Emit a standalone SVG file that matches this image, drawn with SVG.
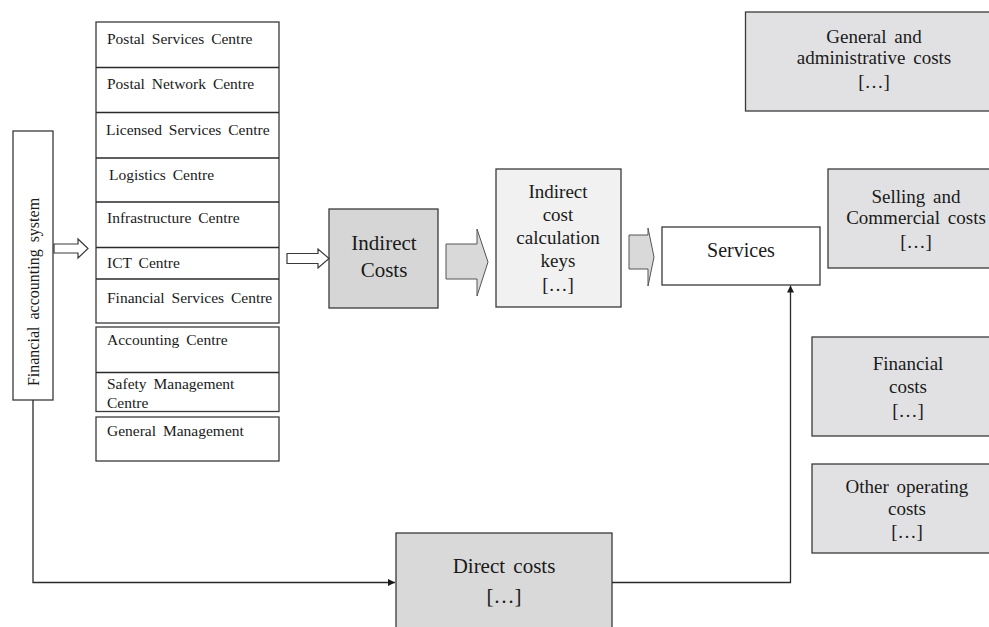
<svg xmlns="http://www.w3.org/2000/svg" width="989" height="627" viewBox="0 0 989 627">
<defs>
<style>
text{font-family:"Liberation Serif","DejaVu Serif",serif;fill:#1a1a1a;word-spacing:3px}
.b{stroke:#3a3a3a;stroke-width:1.3;fill:#fff}
.g{stroke:#3a3a3a;stroke-width:1.3;fill:#e1e1e3}
.s{font-size:15.5px}
.m{font-size:19px;text-anchor:middle}
.l{font-size:21px;text-anchor:middle}
.ln{stroke:#2a2a2a;stroke-width:1.3;fill:none}
.ha{fill:#fff;stroke:#3a3a3a;stroke-width:1.2}
.fa{fill:#d9d9d9;stroke:#555;stroke-width:1}
</style>
<marker id="ah" viewBox="0 0 10 10" refX="10" refY="5" markerWidth="7" markerHeight="7" orient="auto" markerUnits="userSpaceOnUse">
<path d="M0,0 L10,5 L0,10 z" fill="#1a1a1a"/>
</marker>
</defs>
<rect width="989" height="627" fill="#fff"/>

<g id="fas">
<rect class="b" x="13" y="131" width="40" height="269"/>
<text class="s" transform="translate(38.5,292) rotate(-90)" text-anchor="middle" style="font-size:16px">Financial accounting system</text>
</g>

<g id="centres">
<rect class="b" x="96" y="22" width="183" height="301"/>
<line class="ln" x1="96" y1="67.5" x2="279" y2="67.5"/>
<line class="ln" x1="96" y1="112.5" x2="279" y2="112.5"/>
<line class="ln" x1="96" y1="158" x2="279" y2="158"/>
<line class="ln" x1="96" y1="202" x2="279" y2="202"/>
<line class="ln" x1="96" y1="247.5" x2="279" y2="247.5"/>
<line class="ln" x1="96" y1="279" x2="279" y2="279"/>
<text class="s" x="107" y="44">Postal Services Centre</text>
<text class="s" x="107" y="89">Postal Network Centre</text>
<text class="s" x="106" y="135">Licensed Services Centre</text>
<text class="s" x="109" y="180">Logistics Centre</text>
<text class="s" x="107" y="223">Infrastructure Centre</text>
<text class="s" x="107" y="268">ICT Centre</text>
<text class="s" x="107" y="303">Financial Services Centre</text>
<rect class="b" x="96" y="327" width="183" height="84.5"/>
<line class="ln" x1="96" y1="372.5" x2="279" y2="372.5"/>
<text class="s" x="107" y="345">Accounting Centre</text>
<text class="s" x="107" y="389">Safety Management</text>
<text class="s" x="107" y="408">Centre</text>
<rect class="b" x="96" y="417" width="183" height="44"/>
<text class="s" x="107" y="436">General Management</text>
</g>

<g id="indirect-costs">
<rect class="g" x="329" y="209" width="109" height="99" style="fill:#d6d6d6"/>
<text class="l" x="384" y="250">Indirect</text>
<text class="l" x="384" y="277">Costs</text>
</g>

<g id="calc-keys">
<rect class="g" x="496" y="169" width="125" height="138" style="fill:#f0f1f0"/>
<text class="m" x="558" y="198">Indirect</text>
<text class="m" x="558" y="221">cost</text>
<text class="m" x="558" y="244">calculation</text>
<text class="m" x="558" y="267">keys</text>
<text class="m" x="558" y="291">[…]</text>
</g>

<g id="services">
<rect class="b" x="662" y="227" width="158" height="58"/>
<text class="m" x="741" y="257" style="font-size:20px">Services</text>
</g>

<g id="ga-costs">
<rect class="g" x="745.5" y="12" width="250" height="99"/>
<text class="m" x="874" y="43">General and</text>
<text class="m" x="874" y="64">administrative costs</text>
<text class="m" x="874" y="88">[…]</text>
</g>

<g id="selling-costs">
<rect class="g" x="828" y="169" width="170" height="99"/>
<text class="m" x="916" y="203">Selling and</text>
<text class="m" x="916" y="224">Commercial costs</text>
<text class="m" x="916" y="248">[…]</text>
</g>

<g id="financial-costs">
<rect class="g" x="812" y="337" width="190" height="99"/>
<text class="m" x="908" y="370">Financial</text>
<text class="m" x="908" y="393">costs</text>
<text class="m" x="908" y="417">[…]</text>
</g>

<g id="other-costs">
<rect class="g" x="812" y="464" width="190" height="89"/>
<text class="m" x="907" y="493">Other operating</text>
<text class="m" x="907" y="515">costs</text>
<text class="m" x="907" y="538">[…]</text>
</g>

<g id="direct-costs">
<rect class="g" x="396" y="533" width="216" height="110" style="fill:#d9d9d9"/>
<text class="m" x="504" y="573" style="font-size:21px">Direct costs</text>
<text class="m" x="504" y="603" style="font-size:21px">[…]</text>
</g>

<g id="connectors">
<path class="ha" d="M54,244 L78,244 L78,239 L88,248.5 L78,258 L78,253 L54,253 Z"/>
<path class="ha" d="M287,253.5 L318,253.5 L318,249 L329,258.5 L318,268 L318,263.5 L287,263.5 Z"/>
<path class="fa" d="M446,244 L477,244 L477,229 L488,262 L477,296 L477,279 L446,279 Z"/>
<path class="fa" d="M629,235 L648,235 L648,228 L654,257 L648,286 L648,269 L629,269 Z"/>
<path class="ln" d="M33,400 L33,582.5 L395,582.5" marker-end="url(#ah)"/>
<path class="ln" d="M612,582.5 L790.5,582.5 L790.5,285.5" marker-end="url(#ah)"/>
</g>
</svg>
